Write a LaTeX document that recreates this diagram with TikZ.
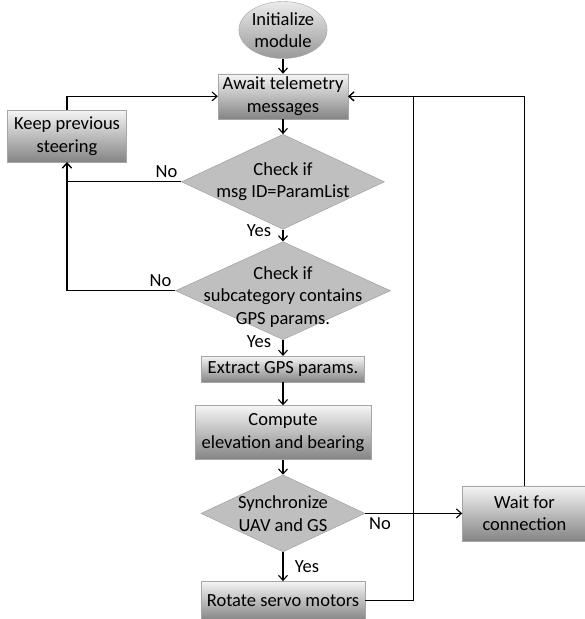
\documentclass[tikz,border=0pt]{standalone}
\usepackage{fontspec}
\setmainfont{Carlito}
\usepackage{xcolor}
\usetikzlibrary{positioning, arrows.meta, shapes.geometric}

\tikzset{
  startstop/.style={draw=black!35, ellipse, top color=black!8, bottom color=black!40, align=center, inner sep=0pt},
  process/.style={draw=black!35, rectangle, top color=black!4, bottom color=black!48, align=center, inner sep=2pt},
  decision/.style={draw=black!40, diamond, fill=black!25, inner sep=0pt},
  flow/.style={-{Straight Barb[length=5pt,width=9pt]}, line width=1.1pt},
}

\begin{document}
\begin{tikzpicture}[x=1pt, y=-1pt, font=\fontsize{18.5}{22.5}\selectfont]
        \useasboundingbox (0,0) rectangle (585,619);

        % Define the nodes
        \node[startstop, minimum width=84pt, minimum height=57pt] (init) at (283,30) {Initialize\\module};
        \node[process, minimum width=130pt, minimum height=45pt, below=15pt of init] (await) {Await telemetry\\messages};

        \node[decision, minimum width=203pt, minimum height=95pt, below=15pt of await,
              label={[align=center]center:{Check if\\msg ID=ParamList}}] (msgid) {};
        \node[decision, minimum width=215pt, minimum height=98pt, below=12pt of msgid,
              label={[align=center, yshift=-6pt]center:{Check if\\subcategory contains\\GPS params.}}] (subcat) {};

        \node[process, minimum width=119pt, minimum height=52pt] (keep) at (67,136) {Keep previous\\steering};

        \node[process, minimum width=163pt, minimum height=26pt, below=16pt of subcat] (extract) {Extract GPS params.};
        \node[process, minimum width=176pt, minimum height=54pt, below=23pt of extract] (compute) {Compute\\elevation and bearing};

        \node[decision, minimum width=164pt, minimum height=77pt, below=15pt of compute,
              label={[align=center]center:{Synchronize\\UAV and GS}}] (sync) {};
        \node[process, minimum width=164pt, minimum height=39pt, below=29pt of sync] (rotate) {Rotate servo motors};

        \node[process, minimum width=124pt, minimum height=55pt, right=97pt of sync] (wait) {Wait for\\connection};

        % Define the edges
        \draw[flow] (init) -- (await);
        \draw[flow] (await) -- (msgid);
        \draw[flow] (msgid) -- node[pos=0.1, left=8pt] {Yes} (subcat);
        \draw[flow] (subcat) -- node[pos=0.1, left=8pt] {Yes} (extract);
        \draw[flow] (extract) -- (compute);
        \draw[flow] (compute) -- (sync);
        \draw[flow] (sync) -- node[pos=0.5, right=8pt] {Yes} (rotate);

        \draw[flow] (msgid.west) -| node[pos=0, above left] {No} (keep.south);
        \draw[flow] (subcat.west) -| node[pos=0, above left] {No} (keep.south);
        \draw[flow] (keep.north) |- (await.west);

        \draw[flow] (sync.east) -- node[pos=0, below right] {No} (wait.west);
        \draw[flow] (wait.north) |- (await.east);
        \draw[flow] (rotate.east) -- ++(48,0) |- (await.east);
    \end{tikzpicture}
\end{document}
